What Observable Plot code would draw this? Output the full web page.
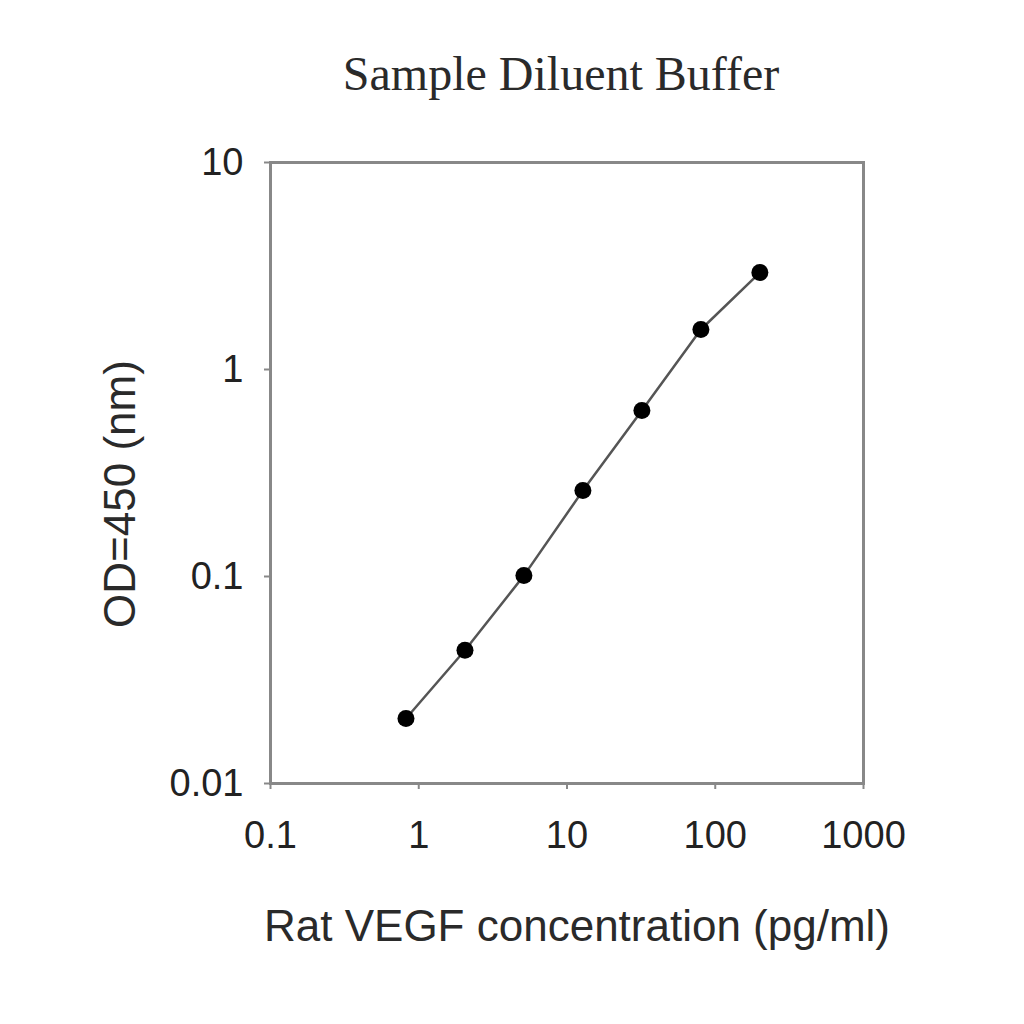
<!DOCTYPE html>
<html>
<head>
<meta charset="utf-8">
<script src="https://cdn.jsdelivr.net/npm/d3@7"></script>
<script src="https://cdn.jsdelivr.net/npm/@observablehq/plot@0.6"></script>
<style>
  html, body { margin: 0; padding: 0; background: #fff; }
  #title { position: relative; height: 120px; width: 1024px; }
  #title span { position: absolute; left: 561px; top: 50px; transform: translateX(-50%);
    font-family: "Liberation Serif", "Times New Roman", serif; font-size: 48px; line-height: 48px;
    color: #2a2a2a; white-space: nowrap; }
  #chart svg { display: block; }
</style>
</head>
<body>
<div id="title"><span>Sample Diluent Buffer</span></div>
<div id="chart"></div>
<script>
const concentration = [0.82, 2.05, 5.12, 12.8, 32, 80, 200];
const od = [0.0206, 0.044, 0.101, 0.26, 0.634, 1.56, 2.94];
const xTicks = [0.1, 1, 10, 100, 1000];
const xTickLabels = ["0.1", "1", "10", "100", "1000"];
const yTicks = [0.01, 0.1, 1, 10];
const yTickLabels = ["0.01", "0.1", "1", "10"];
const xLabel = "Rat VEGF concentration (pg/ml)";
const yLabel = "OD=450 (nm)";

const data = concentration.map((c, i) => ({c, od: od[i]}));
const font = "'Liberation Sans', Arial, sans-serif";

const chart = Plot.plot({
  width: 1024,
  height: 904,
  marginTop: 42,
  marginBottom: 241,
  marginLeft: 270,
  marginRight: 161,
  style: {fontFamily: font, background: "#fff"},
  x: {type: "log", domain: [0.1, 1000]},
  y: {type: "log", domain: [0.01, 10]},
  marks: [
    Plot.frame({stroke: "#888", strokeWidth: 3}),
    Plot.axisX({ticks: xTicks, tickFormat: (d) => xTickLabels[xTicks.indexOf(d)], tickSize: 6,
      tickPadding: 32, fontSize: 38, fill: "#222", stroke: "#888", strokeWidth: 2, label: null}),
    Plot.axisY({ticks: yTicks, tickFormat: (d) => yTickLabels[yTicks.indexOf(d)], tickSize: 6,
      tickPadding: 21, fontSize: 38, fill: "#222", stroke: "#888", strokeWidth: 2, label: null}),
    Plot.line(data, {x: "c", y: "od", stroke: "#555", strokeWidth: 2.5}),
    Plot.dot(data, {x: "c", y: "od", r: 8.5, fill: "#000", stroke: "none"}),
    Plot.text([xLabel], {frameAnchor: "bottom", textAnchor: "middle", lineAnchor: "middle",
      dx: 10, dy: 143, fontSize: 44, fill: "#2a2a2a", fontFamily: font}),
    Plot.text([yLabel], {frameAnchor: "left", textAnchor: "middle", lineAnchor: "middle", rotate: -90,
      dx: -150, dy: 21, fontSize: 44, fill: "#2a2a2a", fontFamily: font})
  ]
});
document.getElementById("chart").appendChild(chart);
</script>
</body>
</html>
